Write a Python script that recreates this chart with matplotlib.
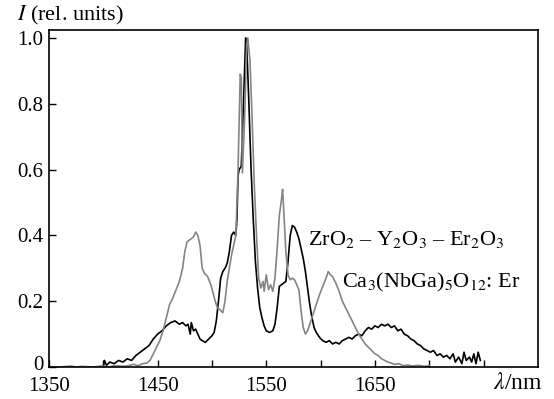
import matplotlib
matplotlib.use("Agg")
import matplotlib.pyplot as plt
from matplotlib.transforms import ScaledTranslation

plt.rcParams["font.family"] = ["Liberation Serif", "DejaVu Serif"]
plt.rcParams["mathtext.fontset"] = "stix"

# ZrO2 - Y2O3 - Er2O3 spectrum (black)
zr_lam = [1400, 1401, 1403, 1406, 1410, 1414, 1418, 1422, 1426, 1430, 1434, 1438,
          1442, 1446, 1450, 1454, 1458, 1462, 1466, 1470, 1473, 1476, 1478, 1480,
          1481, 1483, 1485, 1487, 1489, 1491, 1494, 1497, 1500, 1502, 1504, 1506,
          1508, 1510, 1512, 1514, 1516, 1518, 1520, 1522, 1523, 1524, 1525, 1527,
          1529, 1531, 1532, 1534, 1536, 1538, 1540, 1542, 1544, 1546, 1548, 1550,
          1553, 1556, 1558, 1560, 1562, 1564, 1566, 1568, 1570, 1572, 1574, 1576,
          1578, 1580, 1582, 1584, 1586, 1588, 1590, 1592, 1594, 1596, 1599, 1602,
          1605, 1608, 1611, 1614, 1617, 1620, 1623, 1626, 1629, 1632, 1635, 1638,
          1641, 1644, 1647, 1650, 1653, 1656, 1659, 1662, 1665, 1668, 1671, 1674,
          1677, 1680, 1683, 1686, 1689, 1692, 1695, 1698, 1701, 1704, 1707, 1710,
          1713, 1716, 1719, 1722, 1724, 1727, 1730, 1732, 1734, 1737, 1739, 1741,
          1743, 1745, 1747]
zr_int = [0.0, 0.02, 0.005, 0.015, 0.01, 0.02, 0.015, 0.025, 0.02, 0.035, 0.045, 0.055,
          0.065, 0.085, 0.10, 0.11, 0.125, 0.135, 0.14, 0.13, 0.135, 0.125, 0.13, 0.10,
          0.135, 0.11, 0.115, 0.10, 0.085, 0.08, 0.075, 0.085, 0.095, 0.105, 0.14, 0.20,
          0.27, 0.29, 0.30, 0.315, 0.35, 0.40, 0.41, 0.40, 0.45, 0.58, 0.60, 0.61,
          0.80, 1.00, 0.98, 0.80, 0.60, 0.45, 0.32, 0.24, 0.18, 0.15, 0.125, 0.11,
          0.105, 0.11, 0.13, 0.18, 0.245, 0.25, 0.255, 0.26, 0.32, 0.40, 0.43, 0.425,
          0.41, 0.39, 0.36, 0.33, 0.29, 0.24, 0.19, 0.15, 0.12, 0.105, 0.09, 0.08,
          0.075, 0.08, 0.07, 0.075, 0.07, 0.08, 0.085, 0.09, 0.085, 0.095, 0.10, 0.095,
          0.11, 0.12, 0.115, 0.125, 0.12, 0.13, 0.125, 0.13, 0.12, 0.125, 0.11, 0.115,
          0.10, 0.095, 0.085, 0.08, 0.07, 0.065, 0.055, 0.05, 0.045, 0.05, 0.035, 0.04,
          0.03, 0.035, 0.025, 0.04, 0.015, 0.03, 0.01, 0.045, 0.02, 0.03, 0.015, 0.04,
          0.01, 0.045, 0.02]

# Ca3(NbGa)5O12:Er spectrum (grey)
ca_lam = [1350, 1360, 1370, 1375, 1380, 1390, 1398, 1405, 1410, 1420, 1428, 1432,
          1436, 1440, 1443, 1446, 1449, 1452, 1455, 1458, 1461, 1464, 1467, 1470,
          1473, 1475, 1477, 1479, 1481, 1483, 1485, 1487, 1489, 1491, 1493, 1496,
          1499, 1501, 1503, 1505, 1507, 1510, 1512, 1514, 1516, 1518, 1520, 1522,
          1524, 1526, 1527, 1528, 1530, 1532, 1533, 1535, 1537, 1539, 1541, 1543,
          1545, 1547, 1548, 1550, 1552, 1554, 1556, 1558, 1560, 1562, 1564, 1565,
          1566, 1568, 1570, 1572, 1574, 1576, 1578, 1580, 1582, 1584, 1586, 1588,
          1590, 1593, 1596, 1599, 1602, 1605, 1607, 1609, 1611, 1614, 1617, 1620,
          1623, 1626, 1629, 1632, 1635, 1638, 1641, 1644, 1647, 1650, 1653, 1656,
          1659, 1662, 1665, 1668, 1672, 1676, 1680, 1685, 1690, 1695, 1700]
ca_int = [0.0, 0.0, 0.003, 0.0, 0.002, 0.0, 0.003, 0.0, 0.004, 0.002, 0.008, 0.004,
          0.01, 0.012, 0.02, 0.04, 0.06, 0.08, 0.11, 0.15, 0.19, 0.21, 0.235, 0.26,
          0.30, 0.35, 0.38, 0.385, 0.39, 0.395, 0.41, 0.40, 0.37, 0.30, 0.285, 0.275,
          0.25, 0.225, 0.20, 0.18, 0.175, 0.165, 0.20, 0.26, 0.30, 0.34, 0.37, 0.40,
          0.60, 0.89, 0.88, 0.59, 0.75, 0.98, 1.0, 0.93, 0.75, 0.55, 0.40, 0.27,
          0.24, 0.26, 0.23, 0.28, 0.235, 0.25, 0.23, 0.27, 0.36, 0.46, 0.51, 0.54,
          0.48, 0.35, 0.28, 0.265, 0.27, 0.265, 0.25, 0.235, 0.17, 0.12, 0.10, 0.11,
          0.13, 0.16, 0.19, 0.22, 0.245, 0.27, 0.29, 0.28, 0.275, 0.255, 0.23, 0.20,
          0.18, 0.16, 0.14, 0.12, 0.10, 0.085, 0.07, 0.06, 0.05, 0.04, 0.035, 0.025,
          0.02, 0.015, 0.012, 0.008, 0.01, 0.004, 0.006, 0.003, 0.005, 0.002, 0.004]

x_major = [1350, 1450, 1550, 1650]
x_minor = [1400, 1500, 1600, 1700, 1750]
y_ticks = [0, 0.2, 0.4, 0.6, 0.8, 1.0]
y_labels = ["0", "0.2", "0.4", "0.6", "0.8", "1.0"]

fig = plt.figure(figsize=(5.54, 3.99), dpi=100)
ax = fig.add_axes([0.0884, 0.0802, 0.8826, 0.8446])

ax.plot(zr_lam, zr_int, color="black", lw=1.2)
ax.plot(ca_lam, ca_int, color="#858585", lw=1.2)

ax.set_xlim(1350, 1800)
ax.set_ylim(0, 1.024)
ax.set_xticks(x_major)
ax.set_xticks(x_minor, minor=True)
ax.set_yticks(y_ticks)
ax.set_yticklabels(y_labels)
ax.tick_params(which="both", direction="in", length=5, width=1.0, labelsize=15)
ax.tick_params(axis="x", which="both", pad=7)
ax.tick_params(axis="y", pad=4)
for s in ax.spines.values():
    s.set_linewidth(1.2)

# nudge the "0" label up a little so it clears "1350"
zero = ax.get_yticklabels()[0]
zero.set_transform(zero.get_transform() + ScaledTranslation(0, 3 / 72, fig.dpi_scale_trans))

ax.text(1588, 0.386, "ZrO$_2$ – Y$_2$O$_3$ – Er$_2$O$_3$", fontsize=16, va="center")
ax.text(1620, 0.258, "Ca$_3$(NbGa)$_5$O$_{12}$: Er", fontsize=16, va="center")

fig.text(0.935, 0.04, r"$\lambda$/nm", fontsize=17, ha="center", va="center")
fig.text(0.03, 0.962, r"$I$ (rel. units)", fontsize=16, ha="left", va="center")

plt.savefig("out.png", dpi=100)
plt.close()
